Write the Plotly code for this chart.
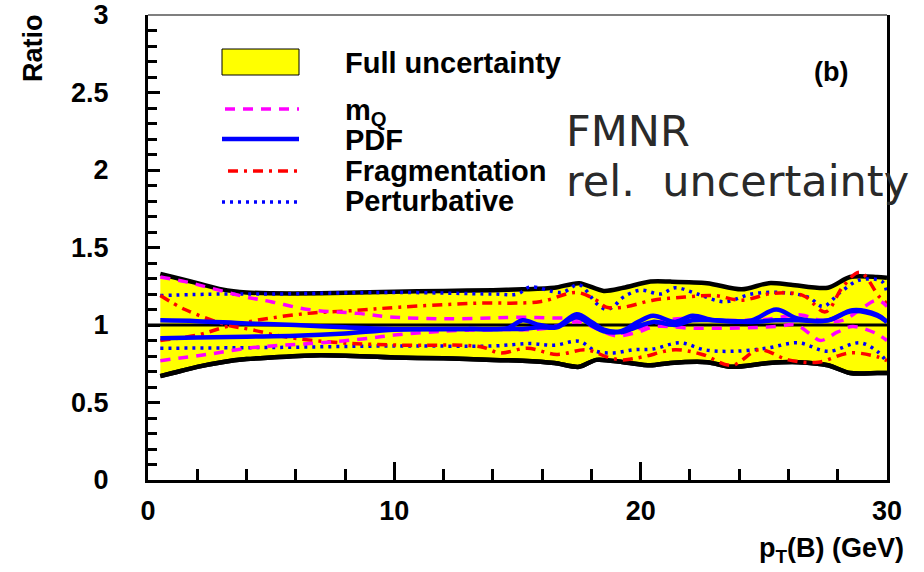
import plotly.graph_objects as go

# ---------------- data ----------------
band_hi_x = [0.5, 1, 2, 3, 4, 5, 7, 10, 12, 14, 15.2, 16.5, 17.5, 18.5, 19.3, 20.4, 21.2, 22.7, 24.1, 25.2, 26.1, 27.6, 28.5, 29.6, 30]
band_hi_y = [1.33, 1.31, 1.27, 1.23, 1.21, 1.205, 1.205, 1.215, 1.22, 1.225, 1.23, 1.24, 1.27, 1.22, 1.24, 1.28, 1.28, 1.27, 1.23, 1.27, 1.26, 1.24, 1.31, 1.31, 1.305]
band_lo_x = [0.5, 1, 2, 3, 4, 5, 7, 10, 12, 14, 15.2, 16.5, 17.5, 18.2, 19.3, 20.4, 21.2, 22.7, 23.7, 25.2, 26.4, 27.6, 28.5, 29.6, 30]
band_lo_y = [0.67, 0.69, 0.73, 0.76, 0.78, 0.79, 0.805, 0.79, 0.785, 0.775, 0.77, 0.755, 0.73, 0.775, 0.76, 0.74, 0.755, 0.76, 0.73, 0.755, 0.76, 0.74, 0.69, 0.69, 0.69]

mq_hi_x = [0.5, 1.5, 2.5, 4, 5, 6.5, 8.5, 10, 12, 14, 15, 16.5, 17.6, 18.3, 18.9, 19.6, 20.5, 21.5, 23, 25, 26.5, 27.3, 28.2, 29, 29.6, 30]
mq_hi_y = [1.31, 1.28, 1.24, 1.18, 1.15, 1.10, 1.075, 1.05, 1.04, 1.045, 1.05, 1.045, 1.04, 0.99, 0.945, 0.96, 1.01, 1.04, 1.03, 1.035, 1.065, 1.03, 1.03, 1.11, 1.16, 1.12]
mq_lo_x = [0.5, 2.4, 4, 5.5, 7, 9, 10, 12, 14, 16, 17.5, 18.3, 19, 19.8, 20.6, 22, 24, 25.5, 26.3, 26.9, 27.3, 28, 28.6, 29.5, 30]
mq_lo_y = [0.77, 0.81, 0.85, 0.87, 0.885, 0.915, 0.935, 0.96, 0.97, 0.975, 1.02, 0.97, 0.93, 0.95, 0.99, 0.98, 0.98, 0.99, 1.0, 0.94, 0.90, 0.955, 0.99, 0.95, 0.90]

pdf_hi_x = [0.5, 2, 4, 6, 8, 10, 13, 14.6, 15.2, 15.9, 16.6, 17.4, 18.0, 18.5, 19.2, 19.9, 20.5, 21.4, 22.1, 23.0, 24.5, 25.5, 26.4, 27.6, 28.6, 29.6, 30]
pdf_hi_y = [1.03, 1.025, 1.01, 1.0, 0.985, 0.975, 0.975, 0.98, 1.03, 1.0, 0.99, 1.07, 1.02, 0.97, 0.96, 1.02, 1.06, 1.02, 1.06, 1.03, 1.03, 1.10, 1.04, 1.03, 1.095, 1.065, 1.02]
pdf_lo_x = [0.5, 2, 4, 6, 8, 10, 13, 14.6, 15.2, 15.9, 16.6, 17.4, 18.0, 18.5, 19.2, 19.9, 20.5, 21.4, 22.1, 23.0, 24.5, 25.5, 26.4, 27.6, 28.6, 29.6, 30]
pdf_lo_y = [0.915, 0.92, 0.925, 0.93, 0.945, 0.97, 0.975, 0.975, 0.975, 0.985, 0.985, 1.05, 1.0, 0.96, 0.955, 0.99, 1.02, 1.0, 1.03, 1.03, 1.02, 1.03, 1.03, 1.03, 1.09, 1.06, 1.02]

frag_a_x = [0.5, 1.5, 3.2, 4.2, 5.5, 7.8, 10.2, 13.5, 14.3, 15.4, 16.6, 17.8, 18.7, 19.3, 20.1, 21.4, 22.5, 23.7, 24.8, 26.0, 27.2, 28.5, 29.6, 30]
frag_a_y = [1.19, 1.10, 1.0, 0.97, 0.925, 0.885, 0.87, 0.86, 0.82, 0.85, 0.81, 0.84, 0.79, 0.775, 0.795, 0.84, 0.81, 0.74, 0.84, 0.775, 0.76, 0.82, 0.795, 0.77]
frag_b_x = [0.5, 2, 3.2, 4.4, 6.5, 8.5, 10.2, 13.2, 15.9, 17.4, 18.2, 18.6, 19.3, 20.5, 21.8, 23.0, 24.1, 25.4, 26.6, 27.5, 28.2, 28.9, 29.7, 30]
frag_b_y = [0.90, 0.935, 0.99, 1.03, 1.075, 1.095, 1.115, 1.14, 1.15, 1.21, 1.16, 1.115, 1.115, 1.16, 1.18, 1.19, 1.16, 1.205, 1.19, 1.085, 1.245, 1.34, 1.18, 1.14]

pert_hi_x = [0.5, 3, 5, 10, 14, 15, 15.5, 16.8, 17.5, 18.2, 18.6, 18.9, 19.3, 20.0, 20.8, 21.4, 22.3, 23.4, 24.5, 25.7, 26.8, 27.4, 28.1, 28.9, 29.8, 30]
pert_hi_y = [1.19, 1.2, 1.2, 1.21, 1.2, 1.2, 1.245, 1.21, 1.26, 1.14, 1.10, 1.12, 1.18, 1.225, 1.2, 1.24, 1.20, 1.15, 1.20, 1.21, 1.18, 1.12, 1.21, 1.29, 1.28, 1.2]
pert_lo_x = [0.5, 5, 10, 14, 15.5, 16.5, 17.5, 18.2, 18.9, 19.7, 20.5, 21.6, 22.6, 23.7, 25.1, 26.4, 27.6, 28.9, 29.6, 30]
pert_lo_y = [0.85, 0.855, 0.865, 0.865, 0.88, 0.87, 0.895, 0.83, 0.82, 0.84, 0.845, 0.885, 0.84, 0.83, 0.85, 0.885, 0.83, 0.885, 0.83, 0.76]

ref_x = [0, 30]
ref_y = [1, 1]

legend_labels = ["Full uncertainty", "m<sub>Q</sub>", "PDF", "Fragmentation", "Perturbative"]

# ---------------- styling ----------------
W, H = 924, 572
L, R, T, B = 148, 37, 15, 92
PW, PH = W - L - R, H - T - B
TICKF = dict(family="Liberation Sans, Arial, sans-serif", size=27, color="black", weight="bold")
BOLD = dict(family="Liberation Sans, Arial, sans-serif", size=29, color="black", weight="bold")

def px(xp):
    return (xp - L) / PW

def py(yp):
    return (H - B - yp) / PH

fig = go.Figure()

EDGE = dict(color="black", width=4.5, shape="spline", smoothing=0.8)
fig.add_trace(go.Scatter(x=band_lo_x, y=band_lo_y, mode="lines", line=EDGE, showlegend=False, hoverinfo="skip"))
fig.add_trace(go.Scatter(x=band_hi_x, y=band_hi_y, mode="lines", fill="tonexty", fillcolor="#ffff00", line=EDGE, showlegend=False, hoverinfo="skip"))
fig.add_trace(go.Scatter(x=band_lo_x, y=band_lo_y, mode="lines", line=EDGE, showlegend=False, hoverinfo="skip"))

fig.add_trace(go.Scatter(x=ref_x, y=ref_y, mode="lines", line=dict(color="black", width=3), showlegend=False, hoverinfo="skip"))

def curve(x, y, color, width, dash):
    fig.add_trace(go.Scatter(x=x, y=y, mode="lines", line=dict(color=color, width=width, dash=dash, shape="spline", smoothing=1.0), showlegend=False, hoverinfo="skip"))

PERT_DASH = "3px,5px"
FRAG_DASH = "10px,6px,3px,6px"
MQ_DASH = "10px,8px"

curve(pert_hi_x, pert_hi_y, "#0000ff", 3.5, PERT_DASH)
curve(pert_lo_x, pert_lo_y, "#0000ff", 3.5, PERT_DASH)
curve(frag_a_x, frag_a_y, "#ff0000", 3.5, FRAG_DASH)
curve(frag_b_x, frag_b_y, "#ff0000", 3.5, FRAG_DASH)
curve(mq_hi_x, mq_hi_y, "#ff00ff", 3.5, MQ_DASH)
curve(mq_lo_x, mq_lo_y, "#ff00ff", 3.5, MQ_DASH)
curve(pdf_hi_x, pdf_hi_y, "#0000ff", 4.5, "solid")
curve(pdf_lo_x, pdf_lo_y, "#0000ff", 4.5, "solid")

shapes = []
shapes.append(dict(type="line", xref="paper", yref="paper", x0=0, x1=1, y0=1, y1=1, line=dict(color="#555555", width=1.5)))
shapes.append(dict(type="rect", xref="paper", yref="paper", x0=px(222), x1=px(299), y0=py(75), y1=py(49), fillcolor="#ffff00", line=dict(color="black", width=1)))
shapes.append(dict(type="line", xref="paper", yref="paper", x0=px(225), x1=px(299), y0=py(109), y1=py(109), line=dict(color="#ff00ff", width=3.5, dash=MQ_DASH)))
shapes.append(dict(type="line", xref="paper", yref="paper", x0=px(222), x1=px(299), y0=py(139), y1=py(139), line=dict(color="#0000ff", width=4.5)))
shapes.append(dict(type="line", xref="paper", yref="paper", x0=px(228), x1=px(299), y0=py(171), y1=py(171), line=dict(color="#ff0000", width=3.5, dash=FRAG_DASH)))
shapes.append(dict(type="line", xref="paper", yref="paper", x0=px(222), x1=px(299), y0=py(202), y1=py(202), line=dict(color="#0000ff", width=3.5, dash=PERT_DASH)))

ann = []
leg_y = [63, 112, 140, 171, 201]
for lab, yy in zip(legend_labels, leg_y):
    ann.append(dict(text=lab, xref="paper", yref="paper", x=px(343), y=py(yy), xanchor="left", yanchor="middle", showarrow=False, font=BOLD))
ann.append(dict(text="(b)", xref="paper", yref="paper", x=px(831), y=py(72), xanchor="center", yanchor="middle", showarrow=False, font=TICKF))
thin = dict(family="DejaVu Sans, sans-serif", size=43, color="#2a2a2a")
ann.append(dict(text="FMNR", xref="paper", yref="paper", x=px(564), y=py(131), xanchor="left", yanchor="middle", showarrow=False, font=thin))
ann.append(dict(text="rel.  uncertainty", xref="paper", yref="paper", x=px(564), y=py(181), xanchor="left", yanchor="middle", showarrow=False, font=thin))
ann.append(dict(text="p<sub>T</sub>(B) (GeV)", xref="paper", yref="paper", x=px(906), y=py(550), xanchor="right", yanchor="middle", showarrow=False, font=TICKF))
ann.append(dict(text="Ratio", xref="paper", yref="paper", x=px(33), y=py(12), xanchor="center", yanchor="top", textangle=-90, showarrow=False, font=TICKF))

fig.update_layout(
    width=W, height=H, autosize=False,
    margin=dict(l=L, r=R, t=T, b=B, pad=0, autoexpand=False),
    paper_bgcolor="white", plot_bgcolor="white",
    shapes=shapes, annotations=ann, showlegend=False,
    xaxis=dict(range=[0, 30], showgrid=False, zeroline=False, showline=True, linecolor="black", linewidth=3,
               ticks="inside", tickmode="linear", tick0=0, dtick=10, ticklen=18, tickwidth=3, tickcolor="black",
               minor=dict(ticks="inside", dtick=2, ticklen=11, tickwidth=3, tickcolor="black", showgrid=False),
               tickfont=TICKF, ticklabelstandoff=5, mirror=False, automargin=False),
    yaxis=dict(range=[0, 3], showgrid=False, zeroline=False, showline=True, linecolor="black", linewidth=3,
               ticks="inside", tickmode="linear", tick0=0, dtick=0.5, ticklen=12, tickwidth=3, tickcolor="black",
               minor=dict(ticks="inside", dtick=0.1, ticklen=9, tickwidth=3, tickcolor="black", showgrid=False),
               tickfont=TICKF, ticklabelstandoff=31, mirror=True, automargin=False),
)

fig.write_html("out.html")
